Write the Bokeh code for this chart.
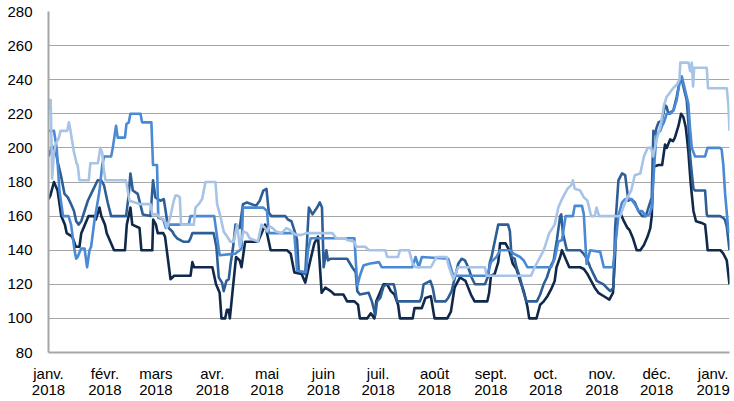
from bokeh.plotting import figure
from bokeh.models import Range1d, FixedTicker
from bokeh.embed import file_html
from bokeh.resources import INLINE

# x = days since 1 Jan 2018
month_days = [0, 31, 59, 90, 120, 151, 181, 212, 243, 273, 304, 334, 365]
month_labels = ["janv.\n2018", "févr.\n2018", "mars\n2018", "avr.\n2018", "mai\n2018",
                "juin\n2018", "juil.\n2018", "août\n2018", "sept.\n2018", "oct.\n2018",
                "nov.\n2018", "déc.\n2018", "janv.\n2019"]
y_ticks = [80, 100, 120, 140, 160, 180, 200, 220, 240, 260, 280]

s1_days = [0, 1, 3, 5, 7, 9, 10, 13, 15, 17, 18, 20, 22, 25, 26, 28, 29, 31, 32, 34, 36, 42, 43, 45, 46, 50, 51, 57, 57.5, 59, 60, 63, 64, 67, 69, 78, 79, 80, 90, 92, 94, 95, 97, 98, 99, 99.6, 101, 103, 105, 106, 108, 115, 117, 119, 121, 122, 131, 133, 135, 139, 141, 144, 146, 148, 150, 152, 155, 157, 162, 164, 168, 170, 171, 175, 177, 179, 180, 184, 186, 188, 190, 192, 193, 200, 201, 205, 207, 210, 212, 219, 221, 223, 226, 229, 232, 234, 241, 242, 243, 245, 247, 248, 251, 253, 255, 257, 259, 261, 263, 264, 268, 270, 272, 274, 276, 278, 279, 281, 282, 284, 286, 292, 294, 296, 298, 300, 302, 305, 308, 310, 311, 312, 314, 316, 318, 319, 321, 323, 325, 327, 329, 330.5, 331.3, 332.2, 335, 337, 338.6, 339.5, 341.4, 343, 344, 346, 347.4, 348.7, 350, 351.4, 352.7, 354.2, 355.6, 358.7, 360.6, 361.3, 362, 369, 370.6, 372.5, 374]
s1_vals = [170, 172, 180, 175, 160, 155, 150, 148, 142, 142, 150, 155, 160, 160, 158, 165, 160, 155, 150, 145, 140, 140, 155, 165, 155, 153, 140, 140, 158, 155, 150, 150, 148, 123, 125, 125, 133, 130, 130, 120, 115, 100, 100, 105, 105, 100, 115, 136, 134, 130, 145, 145, 150, 155, 145, 140, 140, 138, 127, 126, 121, 135, 144, 148, 115, 118, 116, 114, 114, 110, 110, 108, 100, 100, 103, 100, 110, 120, 120, 116, 114, 108, 100, 100, 106, 106, 112, 113, 100, 100, 104, 118, 124, 122, 114, 110, 110, 115, 125, 126, 133, 144, 144, 140, 132, 129, 122, 116, 107, 100, 100, 108, 110, 113, 117, 122, 130, 136, 140, 135, 130, 130, 129, 126, 122, 118, 115, 113, 111, 115, 134, 159, 162, 157, 153, 152, 147, 140, 140, 143, 148, 153, 160, 189, 190, 190, 202, 200, 205, 204, 206, 213, 220, 218, 212, 198, 179, 163, 157, 156, 155, 148, 140, 140, 138, 134, 120]

s2_days = [0, 2, 4, 5, 7, 8.8, 10.6, 12.4, 14, 15.2, 16.5, 18, 19.8, 21.6, 23.4, 25.2, 27, 29, 30.5, 32.5, 34.4, 42.6, 44, 45, 46.3, 49, 51.8, 56, 57.4, 58.7, 61.5, 63.3, 64.2, 65, 66, 68, 69, 70.6, 74, 77, 78, 79, 90.7, 92.2, 93.5, 95.3, 96.2, 97.7, 99, 100, 101.4, 102.7, 105, 106.8, 109, 114, 116, 118, 119.7, 121, 122.4, 130, 131.5, 133.4, 135.2, 136.5, 137.4, 141, 143, 145, 147.5, 149, 150.2, 151.1, 152.6, 153.5, 155, 164, 166.8, 168.7, 169.6, 171, 175.8, 177.6, 179.5, 180.4, 182.2, 184.1, 186, 189.6, 190.5, 191.4, 204, 205, 206, 209.7, 211, 212.4, 218, 219.5, 221.4, 223.2, 225, 226.9, 228.7, 230.5, 232.4, 234.2, 239.7, 241.5, 242.4, 243.3, 247, 252.4, 253.4, 254.3, 256, 257, 258.9, 260.7, 262.5, 268.2, 270, 271.9, 273.7, 275.5, 277.4, 279.2, 281, 281.6, 282.5, 283.8, 284.7, 292, 293.8, 295.7, 297.5, 299.3, 301.1, 304.8, 306.6, 308.5, 310.3, 311.2, 313, 315, 316.7, 318.5, 320, 322, 324, 326, 328, 329.5, 331.3, 332.2, 333.1, 334, 335, 336.8, 337.7, 338.6, 339.5, 340.4, 343.2, 345, 346.8, 347.8, 349.6, 350.5, 351.4, 352.3, 353.3, 354.2, 355.1, 360.6, 361.5, 362, 368.8, 370.6, 371.6, 372.5, 374]
s2_vals = [195, 201, 198, 192, 183, 173, 171, 167, 163, 157, 155, 157, 163, 169, 173, 177, 181, 181, 178, 168, 160, 160, 172, 185, 175, 173, 161, 160, 181, 171, 169, 170, 164, 158, 153, 151, 149, 147, 145, 145, 147, 150, 150, 142, 124, 121, 116, 122, 123, 132, 142, 155, 153, 167, 168, 166, 169, 175, 176, 162, 160, 160, 158, 157, 151, 146, 128, 126, 165, 161, 165, 168, 165, 130, 140, 134, 135, 135, 130, 127, 116, 114, 115, 110, 102, 110, 112, 119, 120, 120, 116, 110, 110, 113, 120, 122, 118, 110, 110, 112, 116, 124, 132, 135, 134, 130, 124, 120, 120, 125, 133, 136, 155, 155, 151, 136, 135, 130, 124, 116, 110, 110, 114, 120, 124, 130, 134, 146, 160, 161, 150, 144, 140, 140, 138, 135, 130, 126, 122, 120, 118, 116, 118, 153, 181, 185, 184, 169, 170, 168, 163, 160, 160, 165, 171, 210, 208, 212, 215, 216, 220, 225, 224, 220, 222, 230, 240, 240, 232, 228, 215, 196, 185, 176, 175, 175, 161, 160, 160, 159, 157.5, 154, 140]

s3_days = [0, 3, 4.5, 6, 8, 11, 12.4, 14.3, 15.2, 16, 17.9, 19.8, 21.2, 22.5, 23.4, 25.2, 27.1, 28, 29.5, 30.5, 34.4, 35.3, 37.1, 38, 42, 42.8, 44.1, 45, 50.5, 51.4, 56.5, 57.4, 59.6, 60.3, 63, 64.5, 66, 77, 78, 91, 94, 102.7, 105, 106, 106.8, 116, 118, 120, 121, 135, 136.5, 141.5, 142.5, 144, 168, 169.6, 171, 173, 176, 181.5, 183, 199.8, 201.6, 203.4, 205, 219.5, 222.3, 241, 243, 246, 248, 253.5, 255.4, 259, 261, 263, 276, 278, 280, 282, 284, 288, 289, 293, 294, 295.5, 297.5, 303, 305, 310, 311, 313, 315, 316.7, 320, 322, 324, 326, 328, 330, 331.3, 332.2, 333, 334, 336, 337, 338, 339.5, 341.4, 343.2, 345, 346.8, 347.8, 348.7, 350.5, 351.4, 352.3, 353.3, 355.1, 360.6, 361.9, 368.8, 369.7, 370.6, 371.6, 372.5, 373.4, 374]
s3_vals = [210, 210, 200, 175, 160, 160, 155, 140, 135, 136, 141, 141, 130, 140, 142, 157, 169, 175, 190, 195, 195, 200, 213, 206, 206, 214, 215, 220, 220, 215, 215, 190, 190, 159, 158, 153, 155, 155, 160, 160, 137, 138, 140, 141, 165, 165, 165, 163, 150, 150, 128, 127, 140, 147, 147, 119, 125, 131, 132, 133, 130, 130, 136, 130, 136, 135, 125, 125, 133, 136, 140, 140, 138, 136, 134, 130, 130, 135, 145, 146, 160, 160, 166, 166, 161, 132, 140, 139, 130, 130, 140, 160, 168, 170, 170, 167, 163, 163, 160, 161, 165, 181, 195, 208, 210, 213, 215, 220, 220, 222, 228, 240, 242, 238, 230, 226, 212, 200, 195, 195, 200, 200, 199, 190, 173, 162, 151, 150]

s4_days = [0, 0.5, 1.2, 2, 2.9, 3.8, 5.7, 6.6, 10.3, 11.2, 12.1, 13.9, 15.4, 16, 17, 22.1, 23, 27.1, 28.5, 29.5, 30.4, 31.3, 42.5, 44.5, 50.5, 56, 57, 59.6, 61.5, 64, 65, 67, 68.8, 69.7, 71, 72.1, 72.8, 79.8, 80.7, 82.5, 84.4, 86.2, 91.7, 92.6, 94.4, 96.2, 98.1, 99.9, 101.7, 103.6, 105, 106, 107, 109, 110.5, 113, 115, 116, 117, 119, 120, 121.5, 123, 125, 128, 130.6, 132.4, 134.3, 136, 139, 141.6, 147, 156, 158, 163, 164, 168, 169, 174, 176, 185, 186, 192, 193, 198, 200, 201.6, 210, 213, 218.6, 219.5, 220, 222.3, 225, 239.7, 240.6, 265, 267, 270, 272, 275, 278, 280, 282, 285, 287, 288, 289, 292, 294, 296, 298, 300, 301, 302.4, 314, 316, 318, 320, 322, 325, 327, 329, 331, 332, 334, 336, 338, 339.5, 341, 343, 345, 346.5, 347, 351.5, 352.4, 353.3, 354, 354.6, 361.5, 362.2, 372.5, 373.4, 374]
s4_vals = [222, 228, 228, 182, 196, 202, 206, 210, 210, 215, 210, 198, 191, 190, 181, 181, 191, 191, 200, 197, 187, 181, 181, 169, 167, 167, 161, 161, 159, 157, 153, 160, 169, 172, 172, 171, 155, 155, 165, 167, 170, 180, 180, 167, 160, 151, 148, 145, 145, 155, 142, 146, 151, 150, 147, 146, 145, 150, 155, 153, 151, 154, 153, 151, 150, 153, 152, 150, 149, 149, 150, 150, 150, 147, 147, 146, 145, 142, 142, 140, 140, 136, 136, 140, 140, 132, 130, 130, 136, 136, 132, 130, 123, 130, 130, 125, 125, 130, 136, 140, 150, 155, 165, 170, 176, 178, 181, 176, 175, 171, 169, 160, 160, 165, 160, 160, 166, 171, 175, 184, 185, 195, 200, 200, 195, 205, 212, 225, 230, 232, 235, 237, 240, 250, 250, 245, 250, 236, 247, 247, 235, 235, 225, 210]

series = [
    (s1_days, s1_vals, "#10294a"),
    (s2_days, s2_vals, "#2e5e96"),
    (s3_days, s3_vals, "#4a89d4"),
    (s4_days, s4_vals, "#a7c4e6"),
]

p = figure(frame_width=681, frame_height=341, output_backend="svg", toolbar_location=None,
           x_range=Range1d(0, 374), y_range=Range1d(80, 280),
           min_border_left=48, min_border_right=5, min_border_top=11, min_border_bottom=49)
p.outline_line_color = None
p.background_fill_color = "white"
p.border_fill_color = "white"

for d, v, c in series:
    p.line(d, v, line_color=c, line_width=2.6, line_join="round")

p.xaxis.ticker = FixedTicker(ticks=month_days)
p.xaxis.major_label_overrides = {d: l for d, l in zip(month_days, month_labels)}
p.yaxis.ticker = FixedTicker(ticks=y_ticks)

for ax in (p.xaxis[0], p.yaxis[0]):
    ax.axis_line_color = "#a6a6a6"
    ax.axis_line_width = 2
    ax.major_tick_line_color = None
    ax.minor_tick_line_color = None
    ax.major_tick_out = 0
    ax.major_tick_in = 0
    ax.minor_tick_out = 0
    ax.major_label_text_font = "Liberation Sans"
    ax.major_label_text_font_size = "15px"
    ax.major_label_text_color = "#000000"
p.yaxis.major_label_standoff = 16
p.xaxis.major_label_standoff = 12
p.xaxis.major_label_text_line_height = 0.95

p.xgrid.visible = False
p.ygrid.grid_line_color = "#a6a6a6"
p.ygrid.grid_line_width = 1.2

open("out.html", "w").write(file_html(p, INLINE))
